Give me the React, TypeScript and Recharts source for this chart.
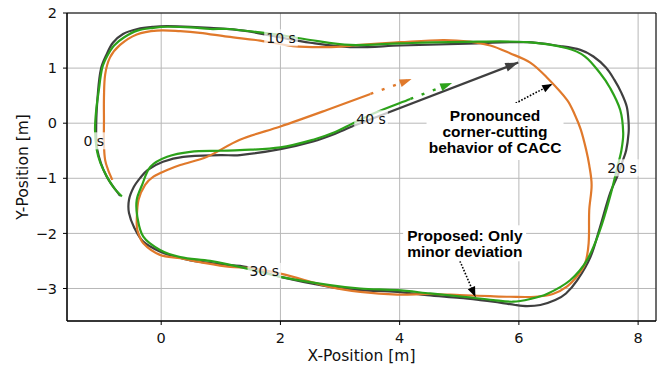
import {
  LineChart,
  Line,
  XAxis,
  YAxis,
  CartesianGrid,
  ReferenceArea,
  ReferenceDot,
} from 'recharts'

type Pt = { x: number; y: number }
const toPts = (rows: [number, number][]): Pt[] => rows.map(([x, y]) => ({ x, y }))

// Reference trajectory [m]
const referencePath = toPts([
  [-0.69, -1.32], [-0.92, -0.96], [-1.07, -0.49], [-1.09, -0.03], [-1.06, 0.57],
  [-1.01, 0.99], [-0.92, 1.24], [-0.81, 1.46], [-0.64, 1.62], [-0.4, 1.71],
  [-0.13, 1.75], [0.1, 1.76], [0.49, 1.75], [0.82, 1.73], [1.38, 1.68],
  [1.93, 1.57], [2.5, 1.46], [3.17, 1.38], [4.01, 1.41], [5.3, 1.45],
  [6.14, 1.47], [6.69, 1.4], [7.03, 1.33], [7.25, 1.21], [7.46, 1.01],
  [7.6, 0.79], [7.72, 0.55], [7.81, 0.3], [7.84, 0.02], [7.84, -0.18],
  [7.8, -0.49], [7.73, -0.72], [7.66, -0.94], [7.53, -1.27], [7.36, -1.89],
  [7.2, -2.43], [6.98, -2.85], [6.79, -3.09], [6.61, -3.21], [6.36, -3.3],
  [6.14, -3.32], [5.94, -3.3], [5.57, -3.24], [5.35, -3.21], [5.01, -3.17],
  [4.46, -3.12], [3.96, -3.06], [3.34, -3.03], [2.83, -2.97], [2.0, -2.79],
  [1.44, -2.61], [0.99, -2.56], [0.49, -2.49], [0.23, -2.42], [-0.02, -2.33],
  [-0.3, -2.15], [-0.45, -1.9], [-0.54, -1.63], [-0.54, -1.39], [-0.46, -1.16],
  [-0.35, -0.99], [-0.23, -0.85], [0.03, -0.7], [0.37, -0.61], [0.99, -0.58],
  [1.32, -0.58], [2.0, -0.47], [2.55, -0.33], [2.92, -0.19], [3.22, -0.05],
])

// CACC trajectory [m]
const caccPath = toPts([
  [-0.82, -1.03], [-0.89, -0.85], [-0.94, -0.67], [-0.96, -0.39], [-0.96, 0.06],
  [-0.96, 0.46], [-0.94, 0.88], [-0.86, 1.19], [-0.69, 1.42], [-0.41, 1.61],
  [-0.07, 1.68], [0.32, 1.67], [0.65, 1.64], [1.11, 1.57], [1.66, 1.5],
  [2.21, 1.4], [2.78, 1.38], [3.34, 1.42], [4.01, 1.47], [4.73, 1.51],
  [5.18, 1.48], [5.52, 1.41], [5.85, 1.27], [6.19, 1.1], [6.47, 0.83],
  [6.81, 0.42], [6.94, 0.15], [7.04, -0.12], [7.13, -0.49], [7.18, -0.76],
  [7.22, -1.12], [7.18, -1.58], [7.17, -2.18], [7.11, -2.55], [6.99, -2.76],
  [6.81, -2.96], [6.57, -3.1], [6.27, -3.15], [5.85, -3.15], [5.52, -3.14],
  [5.01, -3.12], [4.51, -3.1], [3.96, -3.11], [3.34, -3.06], [2.83, -2.97],
  [2.0, -2.73], [1.49, -2.63], [1.16, -2.61], [0.65, -2.52], [0.32, -2.45],
  [-0.02, -2.39], [-0.3, -2.18], [-0.4, -1.94], [-0.41, -1.76], [-0.38, -1.39],
  [-0.27, -1.12], [-0.13, -0.97], [0.1, -0.85], [0.32, -0.76], [0.77, -0.61],
  [1.32, -0.3], [2.0, -0.06], [2.78, 0.24], [3.51, 0.53],
])

// Proposed controller trajectory [m]
const proposedPath = toPts([
  [-0.66, -1.33], [-0.79, -1.18], [-0.91, -0.97], [-1.02, -0.72], [-1.08, -0.49],
  [-1.11, -0.12], [-1.09, 0.24], [-1.05, 0.57], [-0.99, 1.0], [-0.91, 1.21],
  [-0.79, 1.41], [-0.62, 1.56], [-0.4, 1.68], [-0.13, 1.73], [0.1, 1.75],
  [0.49, 1.74], [0.82, 1.71], [1.11, 1.71], [1.66, 1.65], [1.95, 1.61],
  [2.5, 1.51], [3.17, 1.42], [4.01, 1.45], [5.3, 1.48], [6.14, 1.47],
  [6.81, 1.36], [7.11, 1.21], [7.36, 0.91], [7.53, 0.64], [7.7, 0.24],
  [7.75, -0.18], [7.72, -0.49], [7.66, -0.76], [7.53, -1.33], [7.36, -1.94],
  [7.14, -2.49], [6.86, -2.85], [6.47, -3.1], [6.19, -3.19], [5.9, -3.24],
  [5.57, -3.21], [5.07, -3.15], [4.51, -3.09], [3.96, -3.03], [3.34, -3.0],
  [2.83, -2.94], [2.0, -2.79], [1.44, -2.64], [0.82, -2.5], [0.32, -2.43],
  [-0.02, -2.3], [-0.3, -2.06], [-0.4, -1.7], [-0.41, -1.39], [-0.32, -1.12],
  [-0.18, -0.79], [0.1, -0.61], [0.49, -0.52], [0.99, -0.5], [1.32, -0.49],
  [2.0, -0.44], [2.55, -0.3], [2.92, -0.16], [3.22, 0.0], [3.59, 0.19],
  [4.18, 0.44],
])

// heading arrows at the end of each run
const referenceArrow = toPts([[3.22, -0.05], [5.99, 1.1]])
const caccArrow = toPts([[3.51, 0.53], [4.2, 0.8]])
const proposedArrow = toPts([[4.18, 0.44], [4.88, 0.73]])

// annotation pointers
const cornerPointer = toPts([[5.85, 0.31], [6.56, 0.71]])
const minorPointer = toPts([[4.99, -2.45], [5.27, -3.15]])

const timeMarks = [
  { text: '0 s', x: -1.13, y: -0.32 },
  { text: '10 s', x: 2.01, y: 1.55 },
  { text: '20 s', x: 7.73, y: -0.81 },
  { text: '30 s', x: 1.73, y: -2.69 },
  { text: '40 s', x: 3.52, y: 0.08 },
]

const cornerNote = ['Pronounced', 'corner-cutting', 'behavior of CACC']
const minorNote = ['Proposed: Only', 'minor deviation']

const xTicks = [0, 2, 4, 6, 8]
const yTicks = [-3, -2, -1, 0, 1, 2]

const W = 662
const H = 370
const X_DOMAIN: [number, number] = [-1.58, 8.3]
const Y_DOMAIN: [number, number] = [-3.59, 2]
const M = { left: 67, right: 6, top: 13, bottom: 49 }
const KX = (W - M.left - M.right) / (X_DOMAIN[1] - X_DOMAIN[0])
const KY = (H - M.top - M.bottom) / (Y_DOMAIN[1] - Y_DOMAIN[0])

const GRAY = '#3f3f3f'
const ORANGE = '#e0792b'
const GREEN = '#2ca21a'

const TICK_FONT = 'DejaVu Sans, sans-serif'
const NOTE_FONT = 'Liberation Sans, Arial, sans-serif'

// smooth curve through the points, tangent length tied to segment length
// so uneven point spacing does not overshoot
function smoothPath(context: any) {
  let pts: [number, number][] = []
  const unit = (dx: number, dy: number) => {
    const l = Math.hypot(dx, dy) || 1
    return [dx / l, dy / l]
  }
  return {
    areaStart() {},
    areaEnd() {},
    lineStart() {
      pts = []
    },
    point(x: number, y: number) {
      pts.push([+x, +y])
    },
    lineEnd() {
      const n = pts.length
      if (!n) return
      context.moveTo(pts[0][0], pts[0][1])
      for (let i = 0; i < n - 1; i++) {
        const p0 = pts[Math.max(i - 1, 0)]
        const p1 = pts[i]
        const p2 = pts[i + 1]
        const p3 = pts[Math.min(i + 2, n - 1)]
        const d = Math.hypot(p2[0] - p1[0], p2[1] - p1[1]) / 3
        const t1 = unit(p2[0] - p0[0], p2[1] - p0[1])
        const t2 = unit(p3[0] - p1[0], p3[1] - p1[1])
        context.bezierCurveTo(
          p1[0] + t1[0] * d,
          p1[1] + t1[1] * d,
          p2[0] - t2[0] * d,
          p2[1] - t2[1] * d,
          p2[0],
          p2[1],
        )
      }
    },
  }
}

// arrowhead drawn as the dot of the last point
function headDot(color: string, len: number, wid: number, arrow: Pt[]) {
  return (props: any) => {
    const { cx, cy, index, points } = props
    if (index !== arrow.length - 1 || cx == null) return <g key={`h${index}`} />
    const prev = points?.[index - 1]
    let ang: number
    if (prev && prev.x != null) {
      ang = Math.atan2(cy - prev.y, cx - prev.x)
    } else {
      const a = arrow[index - 1]
      const b = arrow[index]
      ang = Math.atan2(-(b.y - a.y) * KY, (b.x - a.x) * KX)
    }
    return (
      <path
        key={`h${index}`}
        d={`M0,0 L${-len},${-wid / 2} L${-len},${wid / 2} Z`}
        transform={`translate(${cx},${cy}) rotate(${(ang * 180) / Math.PI})`}
        fill={color}
      />
    )
  }
}

const timeTag = (text: string) => (p: any) => {
  const w = text.length * 7.4 + 4
  return (
    <g>
      <rect x={p.cx - w / 2} y={p.cy - 8.5} width={w} height={17} fill="#fff" fillOpacity={0.72} />
      <text
        x={p.cx}
        y={p.cy}
        dy="0.36em"
        textAnchor="middle"
        fontFamily={TICK_FONT}
        fontSize={14}
        fill="#111"
      >
        {text}
      </text>
    </g>
  )
}

const noteBox = (lines: string[], w: number, h: number, anchor: 'middle' | 'start') => (p: any) => {
  const lineH = 16
  const top = p.cy - ((lines.length - 1) * lineH) / 2
  const tx = anchor === 'middle' ? p.cx : p.cx - w / 2 + 4
  return (
    <g>
      <rect x={p.cx - w / 2} y={p.cy - h / 2} width={w} height={h} fill="#fff" />
      {lines.map((l, i) => (
        <text
          key={l}
          x={tx}
          y={top + i * lineH}
          dy="0.36em"
          textAnchor={anchor}
          fontFamily={NOTE_FONT}
          fontWeight="bold"
          fontSize={15.5}
          fill="#000"
        >
          {l}
        </text>
      ))}
    </g>
  )
}

const fmtY = (v: number) => (v < 0 ? `\u2212${Math.abs(v)}` : `${v}`)

export default function App() {
  return (
    <div style={{ position: 'absolute', left: 0, top: 0, width: W, height: H, background: '#fff' }}>
      <LineChart
        width={W}
        height={H}
        margin={{ top: M.top, right: M.right, left: 0, bottom: 0 }}
      >
        <CartesianGrid stroke="#b8b8b8" strokeWidth={1} />
        <XAxis
          type="number"
          dataKey="x"
          domain={X_DOMAIN}
          ticks={xTicks}
          interval={0}
          allowDataOverflow
          height={M.bottom}
          tickSize={4}
          tickMargin={8}
          axisLine={{ stroke: '#000' }}
          tickLine={{ stroke: '#000' }}
          tick={{ fill: '#111', fontSize: 14.5, fontFamily: TICK_FONT }}
          label={{
            value: 'X-Position [m]',
            position: 'insideBottom',
            offset: 9,
            fill: '#111',
            fontSize: 15.5,
            fontFamily: TICK_FONT,
          }}
        />
        <YAxis
          type="number"
          dataKey="y"
          domain={Y_DOMAIN}
          ticks={yTicks}
          interval={0}
          allowDataOverflow
          width={M.left}
          tickSize={4}
          tickMargin={6}
          tickFormatter={fmtY}
          axisLine={{ stroke: '#000' }}
          tickLine={{ stroke: '#000' }}
          tick={{ fill: '#111', fontSize: 14.5, fontFamily: TICK_FONT }}
          label={{
            value: 'Y-Position [m]',
            angle: -90,
            position: 'insideLeft',
            offset: 22,
            fill: '#111',
            fontSize: 15.5,
            fontFamily: TICK_FONT,
            style: { textAnchor: 'middle' },
          }}
        />
        <ReferenceArea
          x1={X_DOMAIN[0]}
          x2={X_DOMAIN[1]}
          y1={Y_DOMAIN[0]}
          y2={Y_DOMAIN[1]}
          fill="none"
          stroke="#000"
          strokeWidth={1}
          ifOverflow="visible"
        />

        <Line
          data={referencePath}
          dataKey="y"
          type={smoothPath as any}
          stroke={GRAY}
          strokeWidth={2.2}
          dot={false}
          isAnimationActive={false}
        />
        <Line
          data={caccPath}
          dataKey="y"
          type={smoothPath as any}
          stroke={ORANGE}
          strokeWidth={2.2}
          dot={false}
          isAnimationActive={false}
        />
        <Line
          data={proposedPath}
          dataKey="y"
          type={smoothPath as any}
          stroke={GREEN}
          strokeWidth={2.2}
          dot={false}
          isAnimationActive={false}
        />

        <Line
          data={referenceArrow}
          dataKey="y"
          type="linear"
          stroke={GRAY}
          strokeWidth={2.2}
          dot={headDot(GRAY, 13, 9, referenceArrow)}
          isAnimationActive={false}
        />
        <Line
          data={caccArrow}
          dataKey="y"
          type="linear"
          stroke={ORANGE}
          strokeWidth={2.4}
          strokeDasharray="3 9"
          dot={headDot(ORANGE, 12, 8, caccArrow)}
          isAnimationActive={false}
        />
        <Line
          data={proposedArrow}
          dataKey="y"
          type="linear"
          stroke={GREEN}
          strokeWidth={2.4}
          strokeDasharray="3 9"
          dot={headDot(GREEN, 12, 8, proposedArrow)}
          isAnimationActive={false}
        />
        <Line
          data={cornerPointer}
          dataKey="y"
          type="linear"
          stroke="#000"
          strokeWidth={1.6}
          strokeDasharray="1.6 1.6"
          dot={headDot('#000', 10, 8, cornerPointer)}
          isAnimationActive={false}
        />
        <Line
          data={minorPointer}
          dataKey="y"
          type="linear"
          stroke="#000"
          strokeWidth={1.6}
          strokeDasharray="1.6 1.6"
          dot={headDot('#000', 10, 8, minorPointer)}
          isAnimationActive={false}
        />

        {timeMarks.map((t) => (
          <ReferenceDot
            key={t.text}
            x={t.x}
            y={t.y}
            r={0}
            ifOverflow="visible"
            shape={timeTag(t.text)}
          />
        ))}
        <ReferenceDot
          x={5.6}
          y={-0.15}
          r={0}
          ifOverflow="visible"
          shape={noteBox(cornerNote, 137, 57, 'middle')}
        />
        <ReferenceDot
          x={5.09}
          y={-2.18}
          r={0}
          ifOverflow="visible"
          shape={noteBox(minorNote, 123, 36, 'start')}
        />
      </LineChart>
    </div>
  )
}
